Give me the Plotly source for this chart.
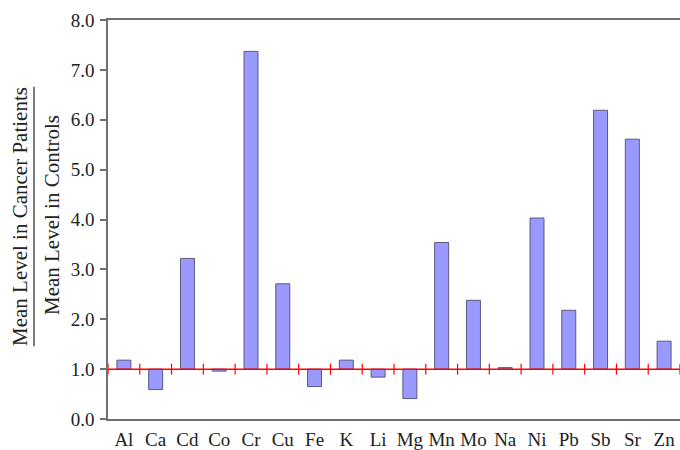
import plotly.graph_objects as go

elements = ["Al", "Ca", "Cd", "Co", "Cr", "Cu", "Fe", "K", "Li", "Mg",
            "Mn", "Mo", "Na", "Ni", "Pb", "Sb", "Sr", "Zn"]
ratios = [1.18, 0.59, 3.22, 0.96, 7.37, 2.71, 0.65, 1.18, 0.84, 0.41,
          3.54, 2.38, 1.03, 4.03, 2.18, 6.19, 5.61, 1.56]
baseline = 1.0
y_ticks = [0, 1, 2, 3, 4, 5, 6, 7, 8]

n = len(elements)
xs = list(range(n))

fig = go.Figure()
fig.add_trace(go.Bar(
    x=xs, y=[r - baseline for r in ratios], base=baseline,
    width=0.44,
    marker=dict(color="#9999ff", line=dict(color="#5a5a78", width=1)),
    showlegend=False, hoverinfo="skip",
))

# reference line at ratio = 1 with small separators between categories
lx = [-0.5, n - 0.5]
ly = [baseline, baseline]
tx, ty = [], []
for k in range(n + 1):
    tx += [k - 0.5, k - 0.5, None]
    ty += [baseline - 0.11, baseline + 0.11, None]
fig.add_trace(go.Scatter(x=lx, y=ly, mode="lines",
                         line=dict(color="#ff0000", width=1.5),
                         showlegend=False, hoverinfo="skip", cliponaxis=False))
fig.add_trace(go.Scatter(x=tx, y=ty, mode="lines",
                         line=dict(color="#ff0000", width=1.2),
                         showlegend=False, hoverinfo="skip"))

font_family = "Liberation Serif"
L, R, T, B = 108, 0, 20, 29
W, H = 680, 450
pw, ph = W - L - R, H - T - B

def px_x(p):
    return (p - L) / pw

def px_y(p):
    return (H - B - p) / ph

fig.update_layout(
    width=W, height=H,
    margin=dict(l=L, r=R, t=T, b=B),
    plot_bgcolor="white", paper_bgcolor="white",
    font=dict(family=font_family, color="#222222", size=19),
    xaxis=dict(range=[-0.5, n - 0.5], tickvals=xs, ticktext=elements,
               showgrid=False, zeroline=False, showline=True, linecolor="#707070",
               linewidth=1.5, mirror=True, ticks="", ticklabelstandoff=2,
               tickfont=dict(family=font_family, size=19, color="#222222")),
    yaxis=dict(range=[0, 8], tickvals=y_ticks, tickformat=".1f",
               showgrid=False, zeroline=False, showline=True, linecolor="#707070",
               linewidth=1.5, ticks="outside", ticklen=6, tickcolor="#707070",
               tickwidth=1.5, ticklabelstandoff=2,
               tickfont=dict(family=font_family, size=19, color="#222222")),
    annotations=[
        dict(text="Mean Level in Cancer Patients", xref="paper", yref="paper",
             x=px_x(20), y=px_y(218), xanchor="center", yanchor="middle",
             textangle=-90, showarrow=False,
             font=dict(family=font_family, size=21, color="#222222")),
        dict(text="Mean Level in Controls", xref="paper", yref="paper",
             x=px_x(52), y=px_y(216), xanchor="center", yanchor="middle",
             textangle=-90, showarrow=False,
             font=dict(family=font_family, size=21, color="#222222")),
    ],
    shapes=[
        dict(type="line", xref="paper", yref="paper",
             x0=px_x(34), x1=px_x(34), y0=px_y(87), y1=px_y(348),
             line=dict(color="#222222", width=1.2)),
    ],
)

fig.write_html("out.html", config={"displayModeBar": False})
with open("out.html", encoding="utf-8") as f:
    html = f.read()
html = html.replace("<head>", "<head><style>html,body{margin:0;padding:0;overflow:hidden;}</style>", 1)
with open("out.html", "w", encoding="utf-8") as f:
    f.write(html)
